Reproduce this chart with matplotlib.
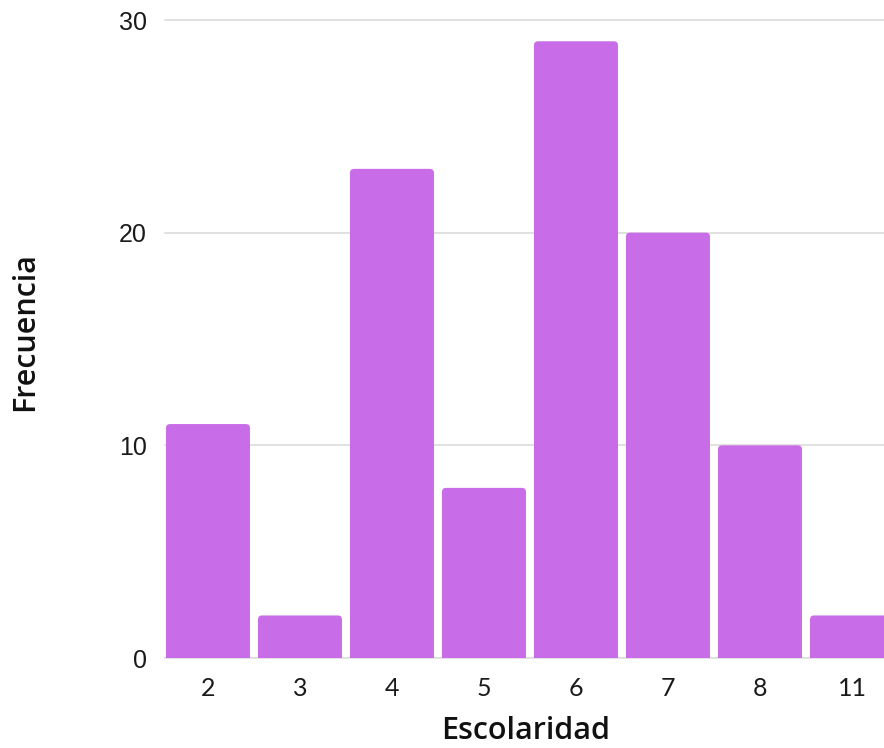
import matplotlib.pyplot as plt
from matplotlib.patches import FancyBboxPatch

# Data
categorias = ["2", "3", "4", "5", "6", "7", "8", "11"]
frecuencias = [11, 2, 23, 8, 29, 20, 10, 2]
y_ticks = [0, 10, 20, 30]

bar_color = "#c96ce8"
grid_color = "#dcdcdc"

fig = plt.figure(figsize=(8.84, 7.48), dpi=100)
ax = fig.add_axes([165 / 884, 90 / 748, 719 / 884, 638 / 748])

width = 0.913
xs = list(range(len(categorias)))

# rounded-top bars
for x, h in zip(xs, frecuencias):
    patch = FancyBboxPatch((x - width / 2, -0.4), width, h + 0.4,
                           boxstyle="round,pad=0,rounding_size=0.045",
                           mutation_aspect=4.2, facecolor=bar_color,
                           edgecolor="none", zorder=3)
    ax.add_patch(patch)

ax.set_xlim(-0.467, 7.348)
ax.set_ylim(0, 30)

ax.set_yticks(y_ticks)
ax.set_yticklabels([str(v) for v in y_ticks], fontfamily="Liberation Sans", fontsize=18, color="#1a1a1a")
ax.set_xticks(xs)
ax.set_xticklabels(categorias, fontfamily="Lato", fontsize=18, color="#1a1a1a")
ax.tick_params(axis="both", length=0)
ax.tick_params(axis="y", pad=13)
ax.tick_params(axis="x", pad=14)

for v in y_ticks:
    ax.axhline(v, color=grid_color, linewidth=1.2, zorder=1, clip_on=False)

for s in ax.spines.values():
    s.set_visible(False)

ax.set_xlabel("Escolaridad", fontfamily="Open Sans", fontsize=22, fontweight="semibold",
              color="#111111", va="center")
ax.set_ylabel("Frecuencia", fontfamily="Open Sans", fontsize=22, fontweight="semibold",
              color="#111111", va="center")
ax.xaxis.set_label_coords(0.502, -0.1144)
ax.yaxis.set_label_coords(-0.1947, 0.512)

fig.savefig("out.png", dpi=100)
